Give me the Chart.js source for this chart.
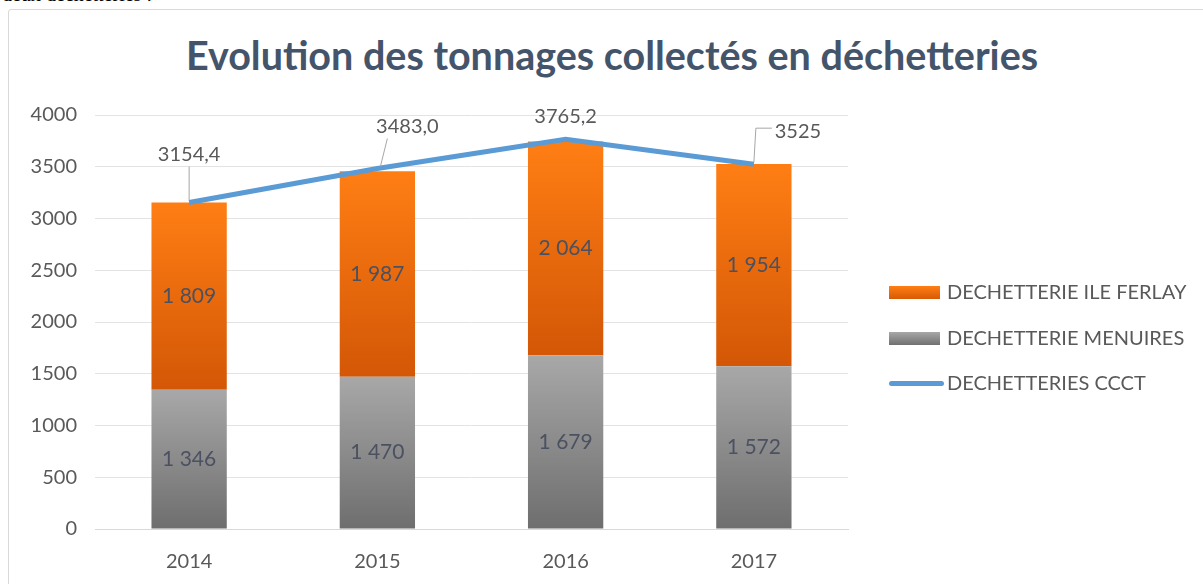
<!DOCTYPE html>
<html>
<head>
<meta charset="utf-8">
<script src="https://cdn.jsdelivr.net/npm/chart.js@4.4.1/dist/chart.umd.min.js"></script>
<style>
  html, body { margin: 0; padding: 0; background: #fff; overflow: hidden; }
  #wrap { position: relative; width: 1203px; height: 584px; }
  #topline { position: absolute; left: 2px; top: -17px; font: 20px "Liberation Serif", serif; color: #000; }
  #frame { position: absolute; left: 8px; top: 9px; width: 1220px; height: 600px; border: 1px solid #d9d9d9; border-radius: 3px; }
  #title { position: absolute; left: 0; width: 1224px; top: 31px; text-align: center;
           font: bold 39.5px Lato, sans-serif; color: #44546a; }
  #legend { position: absolute; left: 889px; top: 279px; font: 20px Lato, sans-serif; color: #595959; }
  .item { height: 45.5px; display: flex; align-items: flex-start; }
  .box { width: 51px; height: 13px; margin-top: 7px; margin-right: 7px; }
  .ln { width: 55px; height: 5px; border-radius: 3px; background: #5b9bd5; margin-top: 11px; margin-right: 3px; }
  canvas { position: absolute; left: 0; top: 0; }
</style>
</head>
<body>
<div id="wrap">
  <div id="topline">deux déchetteries :</div>
  <div id="frame"></div>
  <div id="title">Evolution des tonnages collectés en déchetteries</div>
  <canvas id="myChart" width="1203" height="584"></canvas>
  <div id="legend">
    <div class="item"><div class="box" style="background:linear-gradient(#ff7e14,#d75a06)"></div>DECHETTERIE ILE FERLAY</div>
    <div class="item"><div class="box" style="background:linear-gradient(#a8a8a8,#707070)"></div>DECHETTERIE MENUIRES</div>
    <div class="item"><div class="ln"></div>DECHETTERIES CCCT</div>
  </div>
</div>
<script>
const years = ['2014', '2015', '2016', '2017'];
const menuires = [1346, 1470, 1679, 1572];
const ileFerlay = [1809, 1987, 2064, 1954];
const totalCCCT = [3154.4, 3483.0, 3765.2, 3525];
const totalLabels = ['3154,4', '3483,0', '3765,2', '3525'];

function fmt(v) {
    var s = String(Math.round(v));
    return s.length > 3 ? s.slice(0, s.length - 3) + ' ' + s.slice(-3) : s;
}

// per bar vertical gradient
function barGradient(top, bottom, isOrange) {
    return function(context) {
        const chart = context.chart;
        if (!chart.chartArea) return top;
        const y = chart.scales.y;
        const i = context.dataIndex;
        const base = isOrange ? menuires[i] : 0;
        const val = isOrange ? menuires[i] + ileFerlay[i] : menuires[i];
        const g = chart.ctx.createLinearGradient(0, y.getPixelForValue(val), 0, y.getPixelForValue(base));
        g.addColorStop(0, top);
        g.addColorStop(1, bottom);
        return g;
    };
}

const valueLabels = {
    id: 'valueLabels',
    afterDatasetsDraw(chart) {
        const ctx = chart.ctx;
        ctx.save();
        ctx.textAlign = 'center';
        ctx.textBaseline = 'middle';
        ctx.font = '21px Lato, sans-serif';
        [1, 2].forEach(function(di) {
            const meta = chart.getDatasetMeta(di);
            meta.data.forEach(function(bar, i) {
                const v = chart.data.datasets[di].data[i];
                ctx.fillStyle = '#4b5160';
                ctx.fillText(fmt(v), bar.x, (bar.y + bar.base) / 2);
            });
        });
        // line labels with leader lines
        const offs = [[0, -48], [30, -42], [0, -23], [44, -33]];
        const meta = chart.getDatasetMeta(0);
        ctx.font = '20px Lato, sans-serif';
        meta.data.forEach(function(pt, i) {
            const lx = pt.x + offs[i][0], ly = pt.y + offs[i][1];
            ctx.strokeStyle = '#a6a6a6';
            ctx.lineWidth = 1;
            ctx.beginPath();
            if (i === 0) { ctx.moveTo(lx, ly + 12); ctx.lineTo(pt.x, pt.y - 2); }
            if (i === 1) { ctx.moveTo(lx - 20, ly + 12); ctx.lineTo(pt.x + 3, pt.y - 2); }
            if (i === 3) { ctx.moveTo(lx - 26, ly - 3); ctx.lineTo(pt.x + 2, ly - 3); ctx.lineTo(pt.x, pt.y - 2); }
            ctx.stroke();
            ctx.fillStyle = '#595959';
            ctx.fillText(totalLabels[i], lx, ly);
        });
        ctx.restore();
    }
};

const ctx = document.getElementById('myChart').getContext('2d');
const myChart = new Chart(ctx, {
    data: {
        labels: years,
        datasets: [
            {
                type: 'line',
                label: 'DECHETTERIES CCCT',
                data: totalCCCT,
                borderColor: '#5b9bd5',
                borderWidth: 5,
                pointRadius: 0,
                tension: 0,
                order: 0
            },
            {
                type: 'bar',
                label: 'DECHETTERIE MENUIRES',
                data: menuires,
                backgroundColor: barGradient('#a8a8a8', '#6e6e6e', false),
                stack: 's',
                barPercentage: 0.8,
                categoryPercentage: 0.5,
                order: 1
            },
            {
                type: 'bar',
                label: 'DECHETTERIE ILE FERLAY',
                data: ileFerlay,
                backgroundColor: barGradient('#ff7e14', '#d35706', true),
                stack: 's',
                barPercentage: 0.8,
                categoryPercentage: 0.5,
                order: 1
            }
        ]
    },
    options: {
        responsive: false,
        animation: false,
        layout: { padding: { top: 115, right: 355, left: 0, bottom: 0 } },
        plugins: {
            legend: { display: false },
            tooltip: { enabled: false }
        },
        scales: {
            x: {
                stacked: true,
                grid: { display: false },
                border: { color: '#d9d9d9' },
                ticks: { color: '#595959', font: { family: 'Lato', size: 20 }, padding: 13 },
                afterFit: function(s) { s.height = 55; }
            },
            y: {
                stacked: true,
                min: 0,
                max: 4000,
                ticks: {
                    stepSize: 500,
                    color: '#595959',
                    font: { family: 'Lato', size: 20 },
                    padding: 18,
                    callback: function(v) { return String(v); }
                },
                grid: { color: '#e3e3e3', drawTicks: false },
                border: { display: false },
                afterFit: function(s) { s.width = 95; }
            }
        }
    },
    plugins: [valueLabels]
});
</script>
</body>
</html>
